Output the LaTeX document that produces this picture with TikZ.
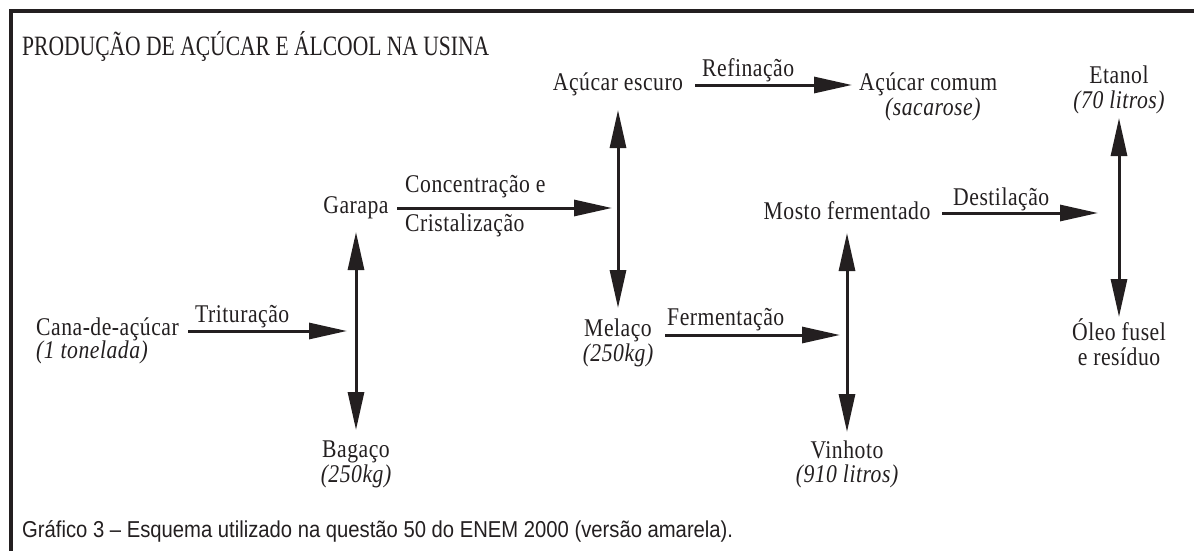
\documentclass[tikz,border=0pt]{standalone}
\usepackage{fontspec}
\setmainfont{Liberation Serif}
\newfontfamily\lblfont[FakeStretch=0.85,LetterSpace=2]{Liberation Serif}
\newfontfamily\titlefont[FakeStretch=0.77]{Liberation Serif}
\newfontfamily\capfont[FakeStretch=0.88]{Liberation Sans}
\usetikzlibrary{arrows.meta}
\definecolor{ink}{RGB}{35,31,32}
\begin{document}
\begin{tikzpicture}[x=1pt,y=-1pt,
  lbl/.style={inner sep=0pt,text=ink,font=\lblfont\fontsize{25.5}{30}\selectfont,anchor=base},
  sub/.style={inner sep=0pt,text=ink,font=\lblfont\fontsize{25.5}{30}\selectfont\itshape,anchor=base},
  flow/.style={draw=ink,line width=3pt,-{Triangle[length=38pt,width=16pt]}},
  both/.style={draw=ink,line width=3pt,{Triangle[length=38pt,width=16pt]}-{Triangle[length=38pt,width=16pt]}},
  frame/.style={draw=ink,line width=3.5pt}]
\useasboundingbox (0,0) rectangle (1194,551);
% frame
\coordinate (fb) at (11,551);
\coordinate (fc) at (11,11);
\coordinate (fr) at (1194,11);
\draw[frame] (fb) -- (fc) -- (fr);
\node[inner sep=0pt,text=ink,font=\titlefont\fontsize{28}{32}\selectfont,anchor=base west] (title) at (22,56) {PRODUÇÃO DE AÇÚCAR E ÁLCOOL NA USINA};
% nodes
\node[lbl,anchor=base west] (cana) at (36,335) {Cana-de-açúcar};
\node[sub,anchor=base west] (canaq) at (36,358) {(1 tonelada)};
\node[lbl] (garapa) at (356,213) {Garapa};
\node[lbl] (bagaco) at (356,457) {Bagaço};
\node[sub] (bagacoq) at (356,482) {(250kg)};
\node[lbl] (escuro) at (618,91) {Açúcar escuro};
\node[lbl] (melaco) at (618,336) {Melaço};
\node[sub] (melacoq) at (618,361) {(250kg)};
\node[lbl,anchor=base west] (comum) at (859,91) {Açúcar comum};
\node[sub,anchor=base west] (comumq) at (885,115) {(sacarose)};
\node[lbl] (mosto) at (847,219) {Mosto fermentado};
\node[lbl] (vinhoto) at (847,458) {Vinhoto};
\node[sub] (vinhotoq) at (847,482) {(910 litros)};
\node[lbl] (etanol) at (1119,83) {Etanol};
\node[sub] (etanolq) at (1119,108) {(70 litros)};
\node[lbl] (oleo) at (1119,340) {Óleo fusel};
\node[lbl] (residuo) at (1119,365) {e resíduo};
% arrow labels
\node[lbl,anchor=base west] (trit) at (195,322) {Trituração};
\node[lbl,anchor=base west] (conc) at (405,192) {Concentração e};
\node[lbl,anchor=base west] (crist) at (405,231) {Cristalização};
\node[lbl,anchor=base west] (refi) at (702,77) {Refinação};
\node[lbl,anchor=base west] (ferm) at (667,325) {Fermentação};
\node[lbl,anchor=base west] (dest) at (953,205) {Destilação};
% arrow end points
\coordinate (a1s) at (188,331); \coordinate (a1e) at (347,331);
\coordinate (a2s) at (397,208); \coordinate (a2e) at (612,208);
\coordinate (a3s) at (695,85);  \coordinate (a3e) at (852,85);
\coordinate (a4s) at (665,335); \coordinate (a4e) at (840,335);
\coordinate (a5s) at (942,213); \coordinate (a5e) at (1098,213);
\coordinate (v1t) at (356,232); \coordinate (v1b) at (356,430);
\coordinate (v2t) at (618,110); \coordinate (v2b) at (618,308);
\coordinate (v3t) at (847,233); \coordinate (v3b) at (847,432);
\coordinate (v4t) at (1119,118); \coordinate (v4b) at (1119,317);
\draw[flow] (a1s) -- (a1e);
\draw[flow] (a2s) -- (a2e);
\draw[flow] (a3s) -- (a3e);
\draw[flow] (a4s) -- (a4e);
\draw[flow] (a5s) -- (a5e);
\draw[both] (v1t) -- (v1b);
\draw[both] (v2t) -- (v2b);
\draw[both] (v3t) -- (v3b);
\draw[both] (v4t) -- (v4b);
% caption
\node[inner sep=0pt,text=ink,font=\capfont\fontsize{23}{27}\selectfont,anchor=base west] (cap) at (22,537) {Gráfico 3 – Esquema utilizado na questão 50 do ENEM 2000 (versão amarela).};
\end{tikzpicture}
\end{document}
